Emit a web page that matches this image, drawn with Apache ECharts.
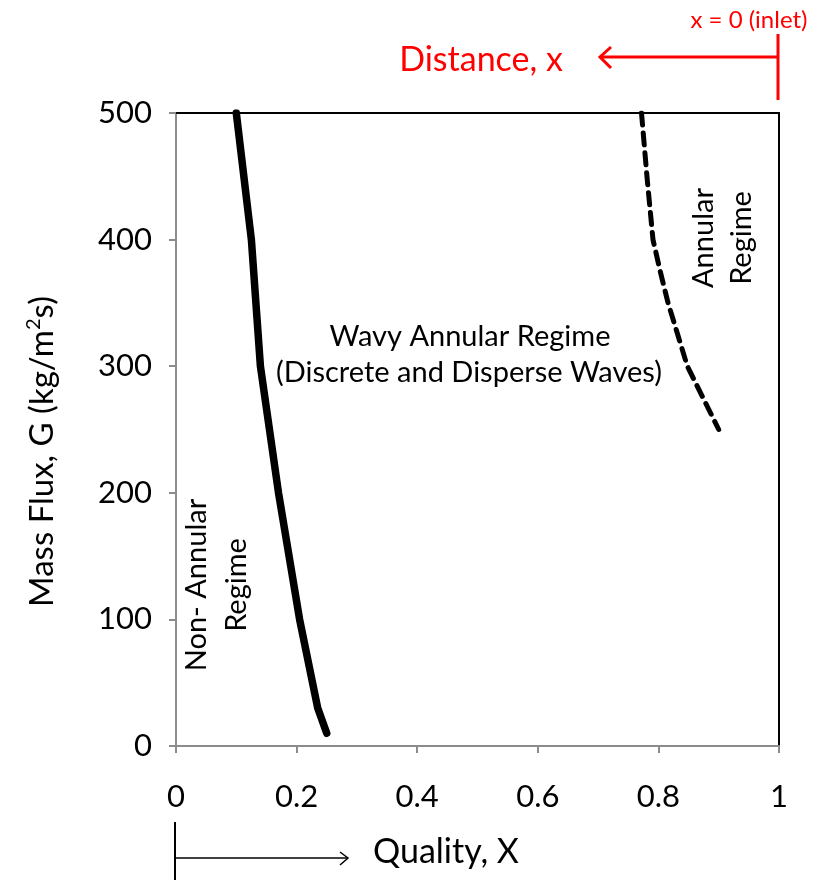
<!DOCTYPE html>
<html><head><meta charset="utf-8">
<script src="https://cdn.jsdelivr.net/npm/echarts@6/dist/echarts.min.js"></script>
<style>html,body{margin:0;padding:0;background:#fff}#c{width:823px;height:880px}</style>
</head><body><div id="c"></div>
<script>
// Data
const nonAnnularBoundaryX = [0.10, 0.125, 0.14, 0.17, 0.205, 0.235, 0.25];
const nonAnnularBoundaryG = [500, 400, 300, 200, 100, 30, 10];
const annularBoundaryX = [0.772, 0.781, 0.791, 0.803, 0.816, 0.832, 0.848, 0.90];
const annularBoundaryG = [500, 450, 400, 375, 350, 325, 300, 250];
const xTicks = [0, 0.2, 0.4, 0.6, 0.8, 1];
const yTicks = [0, 100, 200, 300, 400, 500];

const FONT = 'Lato';
const chart = echarts.init(document.getElementById('c'), null, {renderer: 'canvas'});
const pairs = (xs, ys) => xs.map((x, i) => [x, ys[i]]);

chart.setOption({
  animation: false,
  backgroundColor: '#fff',
  textStyle: {fontFamily: FONT},
  grid: {left: 176, right: 44, top: 113, bottom: 134, containLabel: false},
  xAxis: [{
    type: 'value', min: xTicks[0], max: xTicks[xTicks.length - 1], interval: 0.2,
    axisLine: {onZero: false, lineStyle: {color: '#8c8c8c', width: 2}},
    axisTick: {show: true, length: 7, lineStyle: {color: '#8c8c8c', width: 2}},
    axisLabel: {fontSize: 31, color: '#000', margin: 35, fontFamily: FONT,
      formatter: v => String(Math.round(v * 10) / 10)},
    splitLine: {show: false}
  }, {
    type: 'value', position: 'top', min: 0, max: 1,
    axisLine: {show: true, onZero: false, lineStyle: {color: '#000', width: 2}},
    axisTick: {show: false}, axisLabel: {show: false}, splitLine: {show: false}
  }],
  yAxis: [{
    type: 'value', min: yTicks[0], max: yTicks[yTicks.length - 1], interval: 100,
    axisLine: {show: true, onZero: false, lineStyle: {color: '#8c8c8c', width: 2}},
    axisTick: {show: true, length: 7, lineStyle: {color: '#8c8c8c', width: 2}},
    axisLabel: {fontSize: 31, color: '#000', margin: 24, fontFamily: FONT},
    splitLine: {show: false},
    name: 'Mass Flux, G (kg/m{sup|2}s)',
    nameLocation: 'middle', nameGap: 116, nameRotate: 90,
    nameTextStyle: {fontSize: 33, color: '#000', fontFamily: FONT, padding: [0, 44, 0, 0],
      rich: {sup: {fontSize: 20, verticalAlign: 'top', padding: [0, 0, 16, 0], fontFamily: FONT, color: '#000'}}}
  }, {
    type: 'value', position: 'right', min: 0, max: 500,
    axisLine: {show: true, onZero: false, lineStyle: {color: '#000', width: 2}},
    axisTick: {show: false}, axisLabel: {show: false}, splitLine: {show: false}
  }],
  series: [{
    type: 'line', data: pairs(nonAnnularBoundaryX, nonAnnularBoundaryG),
    showSymbol: false, smooth: false, lineStyle: {color: '#000', width: 7.5, cap: 'round', join: 'round'}
  }, {
    type: 'line', data: pairs(annularBoundaryX, annularBoundaryG),
    showSymbol: false, smooth: false,
    lineStyle: {color: '#000', width: 5, type: [12, 8], cap: 'round', join: 'round'}
  }],
  graphic: [
    {type: 'text', x: 470, y: 337, style: {text: 'Wavy Annular Regime', align: 'center', verticalAlign: 'middle', fontSize: 29, fontFamily: FONT, fill: '#000'}},
    {type: 'text', x: 469, y: 373, style: {text: '(Discrete and Disperse Waves)', align: 'center', verticalAlign: 'middle', fontSize: 29, fontFamily: FONT, fill: '#000'}},
    {type: 'text', x: 217, y: 585, rotation: Math.PI / 2, style: {text: 'Non- Annular\nRegime', align: 'center', verticalAlign: 'middle', fontSize: 29, lineHeight: 40, fontFamily: FONT, fill: '#000'}},
    {type: 'text', x: 723, y: 238, rotation: Math.PI / 2, style: {text: 'Annular\nRegime', align: 'center', verticalAlign: 'middle', fontSize: 29, lineHeight: 38, fontFamily: FONT, fill: '#000'}},
    // red annotation
    {type: 'text', x: 749, y: 20, style: {text: 'x = 0 (inlet)', align: 'center', verticalAlign: 'middle', fontSize: 24, fontFamily: FONT, fill: '#ff0000'}},
    {type: 'text', x: 481, y: 60, style: {text: 'Distance, x', align: 'center', verticalAlign: 'middle', fontSize: 34, fontFamily: FONT, fill: '#ff0000'}},
    {type: 'line', shape: {x1: 778, y1: 34, x2: 778, y2: 100}, style: {stroke: '#ff0000', lineWidth: 3}},
    {type: 'line', shape: {x1: 600, y1: 57, x2: 778, y2: 57}, style: {stroke: '#ff0000', lineWidth: 3}},
    {type: 'polyline', shape: {points: [[611, 47], [600, 57], [611, 68]]}, style: {stroke: '#ff0000', lineWidth: 3, fill: null}},
    // bottom quality arrow
    {type: 'line', shape: {x1: 175, y1: 822, x2: 175, y2: 880}, style: {stroke: '#000', lineWidth: 2}},
    {type: 'line', shape: {x1: 175, y1: 858, x2: 348, y2: 858}, style: {stroke: '#000', lineWidth: 1.5}},
    {type: 'polyline', shape: {points: [[340, 852], [348, 858], [340, 865]]}, style: {stroke: '#000', lineWidth: 1.5, fill: null}},
    {type: 'text', x: 373, y: 852, style: {text: 'Quality, X', align: 'left', verticalAlign: 'middle', fontSize: 34, fontFamily: FONT, fill: '#000'}}
  ]
});
</script></body></html>
